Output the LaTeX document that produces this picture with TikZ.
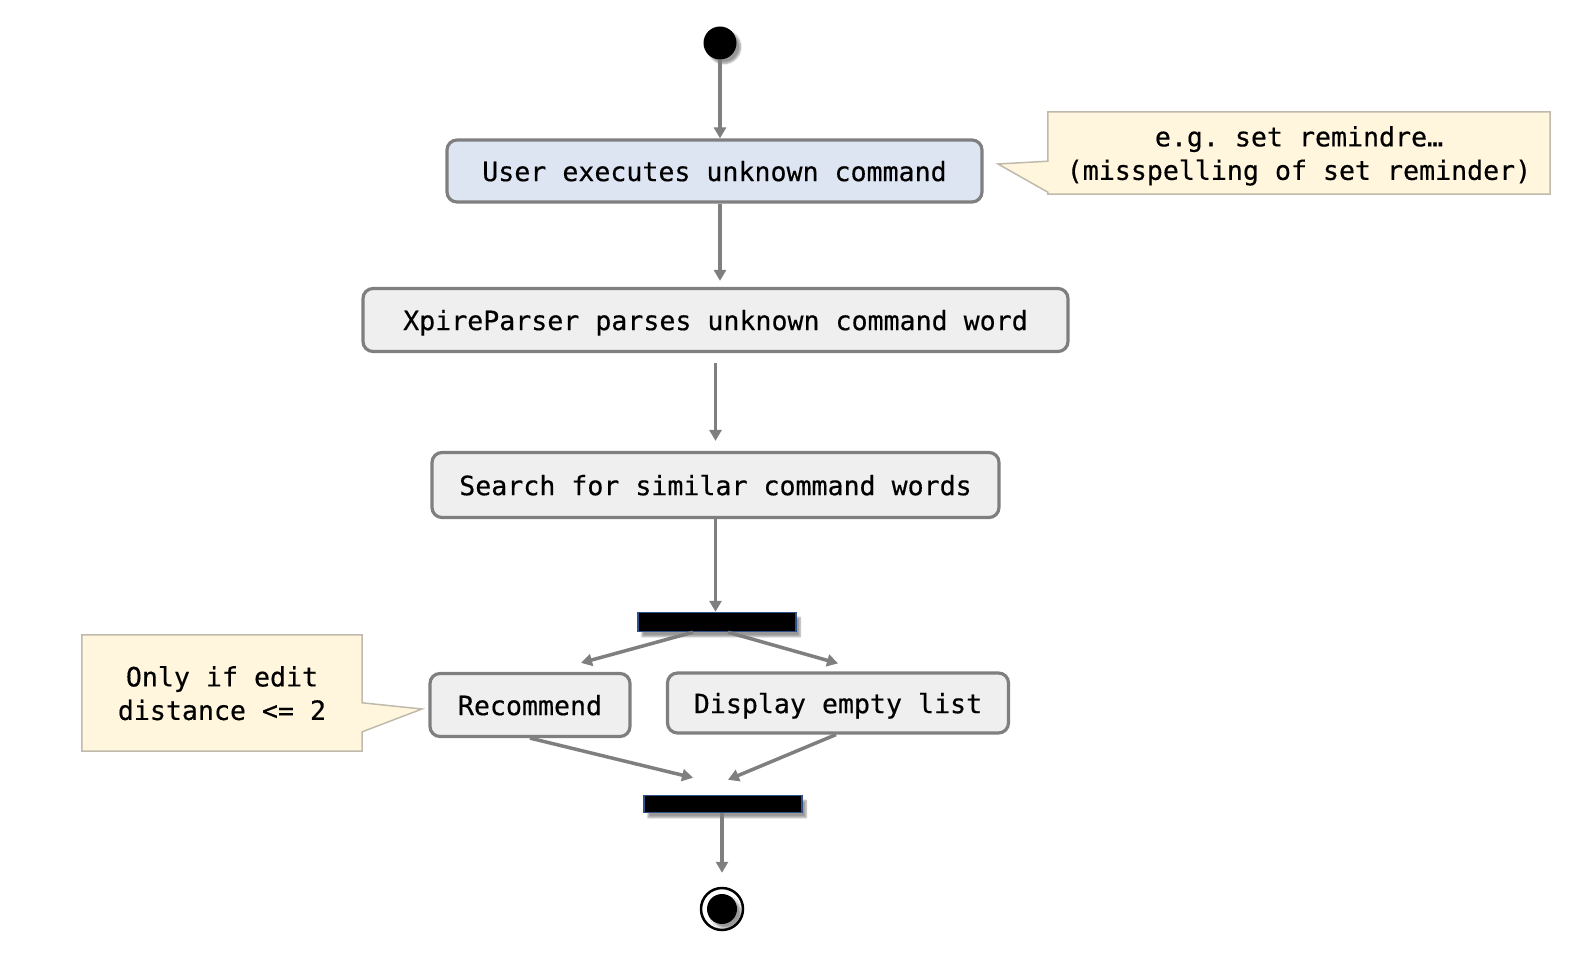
\documentclass[tikz,border=0pt]{standalone}
\usepackage{fontspec}
\setmonofont{DejaVu Sans Mono}[BoldFont={DejaVu Sans Mono},BoldFeatures={FakeBold=0.4}]
\usetikzlibrary{arrows.meta,shadows.blur,backgrounds}
\definecolor{linegray}{RGB}{127,127,127}
\definecolor{actgray}{RGB}{239,239,239}
\definecolor{actblue}{RGB}{222,229,242}
\definecolor{notecream}{RGB}{255,246,221}
\definecolor{noteedge}{RGB}{191,186,172}
\definecolor{baredge}{RGB}{47,82,143}
\begin{document}
\begin{tikzpicture}[x=1pt,y=-1pt,
  act/.style={draw=linegray,line width=3.2pt,rounded corners=10pt,fill=actgray,inner sep=0pt,text depth=0pt,font=\ttfamily\bfseries\fontsize{26.6}{33}\selectfont},
  dot/.style={circle,fill=black,inner sep=0pt,minimum size=30pt,blur shadow={shadow xshift=4pt,shadow yshift=-4pt,shadow blur steps=6}},
  bar/.style={draw=baredge,line width=1.5pt,fill=black,inner sep=0pt,minimum width=158pt,blur shadow={shadow xshift=4pt,shadow yshift=-5pt,shadow blur steps=6}},
  flow/.style={draw=linegray,line width=3.5pt,-{Triangle[length=11pt,width=12pt]}},
  note/.style={inner sep=0pt,align=center,text depth=0pt,font=\ttfamily\bfseries\fontsize{26.6}{33.5}\selectfont},
  notebox/.style={draw=noteedge,line width=1.5pt,fill=notecream}]
\useasboundingbox (0,0) rectangle (1580,960);
%
\node[dot,minimum size=33pt] (start) at (720,43) {};
\node[act,fill=actblue,minimum width=535pt,minimum height=62pt] (exec) at (714.5,171) {User executes unknown command};
\node[act,minimum width=705pt,minimum height=63pt] (parse) at (715.5,320) {XpireParser parses unknown command word};
\node[act,minimum width=567pt,minimum height=65pt] (search) at (715.5,485) {Search for similar command words};
\node[bar,minimum height=19pt] (fork) at (717,622) {};
\node[act,minimum width=200pt,minimum height=63pt] (rec) at (530,705) {Recommend};
\node[act,minimum width=341pt,minimum height=60pt] (disp) at (838,703) {Display empty list};
\node[bar,minimum height=17pt] (join) at (723,804) {};
\node[circle,draw=black,line width=2.5pt,fill=white,inner sep=0pt,minimum size=42pt] (stop) at (722,909) {};
\node[dot] (stopdot) at (stop) {};
%
\node[note,minimum width=502pt,minimum height=82pt] (hint) at (1299,153) {e.g. set remindre…\\(misspelling of set reminder)};
\node[note,minimum width=280pt,minimum height=116pt] (edit) at (222,693) {Only if edit\\distance <= 2};
\coordinate (hinttip) at (998,164);
\coordinate (edittip) at (422,709);
\begin{scope}[on background layer]
\draw[notebox] (hint.north west) -- (hint.north east) -- (hint.south east) -- (hint.south west) -- ([yshift=2pt]hint.south west) -- (hinttip) -- ([yshift=33pt]hint.south west) -- cycle;
\draw[notebox] (edit.north west) -- (edit.north east) -- ([yshift=-68pt]edit.north east) -- (edittip) -- ([yshift=-97pt]edit.north east) -- (edit.south east) -- (edit.south west) -- cycle;
\end{scope}
%
\draw[flow] (start) -- (start |- exec.north);
\draw[flow,shorten >=6pt] (start |- exec.south) -- (start |- parse.north);
\draw[flow,shorten <=10pt,shorten >=10pt] (parse.south) -- (search.north);
\draw[flow] (search.south) -- (search.south |- fork.north);
\draw[flow] ([xshift=-24pt]fork.south) -- ([xshift=51pt,yshift=9pt]rec.north);
\draw[flow] ([xshift=11pt]fork.south) -- ([yshift=8pt]disp.north);
\draw[flow] (rec.south) -- ([xshift=-30pt,yshift=17pt]join.north);
\draw[flow] ([xshift=-2pt]disp.south) -- ([xshift=5pt,yshift=15pt]join.north);
\draw[flow,shorten >=14pt] (join.south -| stop) -- (stop.north);
\end{tikzpicture}
\end{document}
